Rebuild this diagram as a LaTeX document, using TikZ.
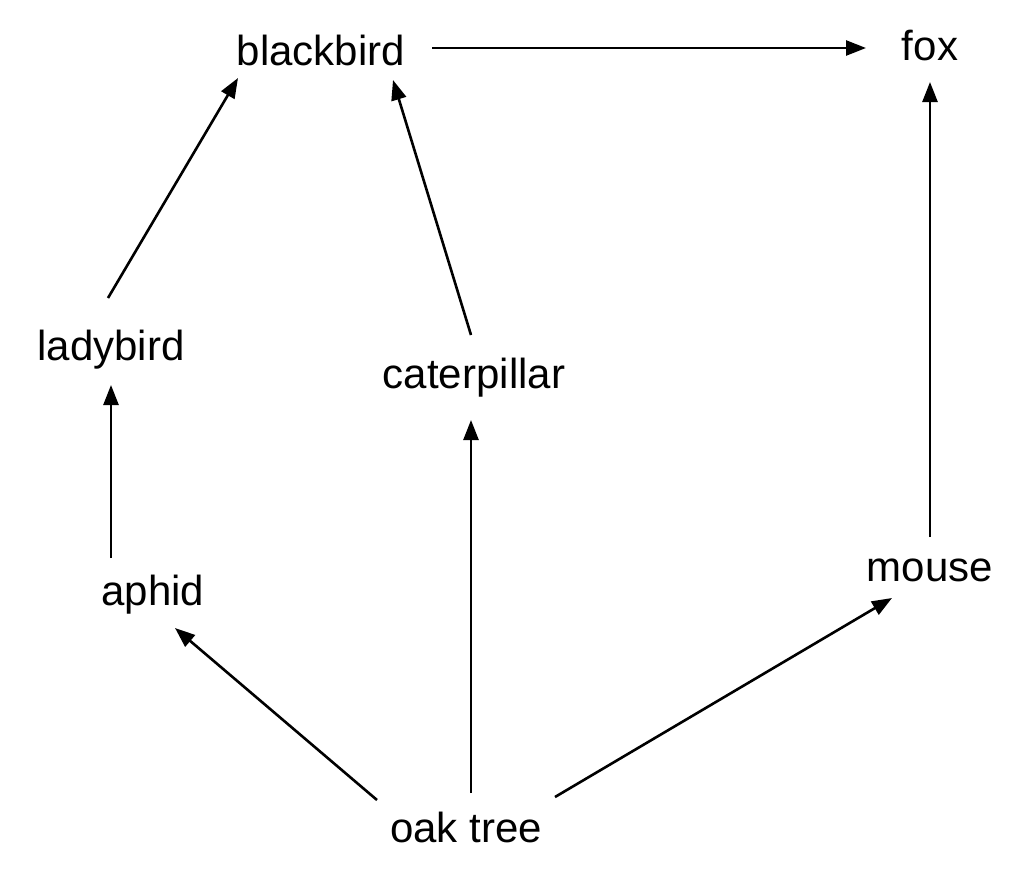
\documentclass[tikz,border=0pt]{standalone}
\usepackage{fontspec}
\setmainfont{Liberation Sans}
\usetikzlibrary{arrows.meta}
\begin{document}
\begin{tikzpicture}[x=1pt,y=-1pt,
  lab/.style={font=\fontsize{42}{48}\selectfont,inner sep=0pt},
  arr/.style={line width=2.6pt,-{Triangle[length=20pt,width=15pt]}}]
\useasboundingbox (0,0) rectangle (1026,876);
\node[lab] (blackbird) at (321,50) {blackbird};
\node[lab] (fox) at (930,46) {fox};
\node[lab] (ladybird) at (111,350) {ladybird};
\node[lab] (caterpillar) at (474,378) {caterpillar};
\node[lab] (aphid) at (153,595) {aphid};
\node[lab] (mouse) at (930,570) {mouse};
\node[lab] (oak) at (466,827) {oak tree};
% arrow end points
\coordinate (o1) at (377,800); \coordinate (a1) at (175,628);
\coordinate (o2) at (471,793); \coordinate (c1) at (471,420);
\coordinate (o3) at (555,797); \coordinate (m1) at (892,598);
\coordinate (a2) at (111,558); \coordinate (l1) at (111,385);
\coordinate (l2) at (108,298); \coordinate (b1) at (238,78);
\coordinate (c2) at (471,335); \coordinate (b2) at (393,80);
\coordinate (b3) at (432,48);  \coordinate (f1) at (866,48);
\coordinate (m2) at (930,537); \coordinate (f2) at (930,82);
\draw[arr] (o1) -- (a1);
\draw[arr] (o2) -- (c1);
\draw[arr] (o3) -- (m1);
\draw[arr] (a2) -- (l1);
\draw[arr] (l2) -- (b1);
\draw[arr] (c2) -- (b2);
\draw[arr] (b3) -- (f1);
\draw[arr] (m2) -- (f2);
\end{tikzpicture}
\end{document}
